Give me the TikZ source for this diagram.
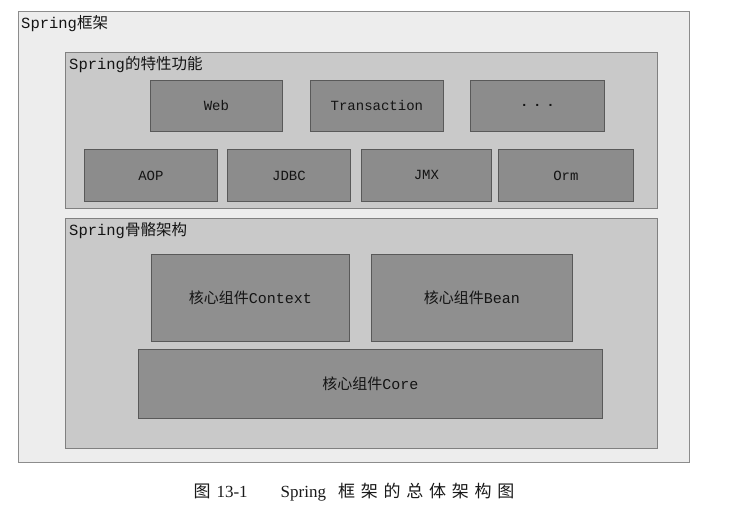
\documentclass[tikz,border=0pt]{standalone}
\usepackage{fontspec}
\setmainfont{Liberation Mono}
\newfontfamily\cjk{Noto Sans CJK SC}
\newfontfamily\capfont{Liberation Serif}
\newfontfamily\cjkcap[LetterSpace=34]{Noto Sans CJK SC}
\begin{document}
\begin{tikzpicture}[x=1pt,y=-1pt,
  framebox/.style={rectangle, anchor=north west, inner sep=0pt, draw=black!45, fill=black!7, line width=0.8pt},
  panelbox/.style={rectangle, anchor=north west, inner sep=0pt, draw=black!50, fill=black!21, line width=0.8pt},
  featbox/.style={rectangle, anchor=north west, inner sep=0pt, draw=black!65, fill=black!45, line width=0.8pt,
    text=black!92, font=\fontsize{14}{16}\selectfont},
  corebox/.style={rectangle, anchor=north west, inner sep=0pt, draw=black!65, fill=black!44, line width=0.8pt,
    text=black!92, font=\fontsize{15}{17}\selectfont},
  paneltitle/.style={anchor=west, inner sep=0pt, text=black!92, font=\fontsize{15.5}{17}\selectfont},
  captext/.style={inner sep=0pt, text=black!90, font=\fontsize{17}{19}\selectfont}]
\useasboundingbox[fill=white] (0,0) rectangle (730,517);
% outer frame
\node[framebox, minimum width=671pt, minimum height=451pt] (outer) at (18,11) {};
\node[paneltitle] (outertitle) at (21,24) {Spring{\cjk 框架}};
% features panel
\node[panelbox, minimum width=592pt, minimum height=156pt] (feat) at (65,52) {};
\node[paneltitle] (feattitle) at (69,65) {Spring{\cjk 的特性功能}};
\node[featbox, minimum width=132pt, minimum height=51pt] (web) at (150,80) {Web};
\node[featbox, minimum width=133pt, minimum height=51pt] (tx) at (310,80) {Transaction};
\node[featbox, minimum width=134pt, minimum height=51pt] (more) at (470,80) {\textbf{.\,\,.\,\,.}};
\node[featbox, minimum width=133pt, minimum height=52pt] (aop) at (84,149) {AOP};
\node[featbox, minimum width=123pt, minimum height=52pt] (jdbc) at (227,149) {JDBC};
\node[featbox, minimum width=130pt, minimum height=52pt] (jmx) at (361,149) {JMX};
\node[featbox, minimum width=135pt, minimum height=52pt] (orm) at (498,149) {Orm};
% skeleton panel
\node[panelbox, minimum width=592pt, minimum height=230pt] (core) at (65,218) {};
\node[paneltitle] (coretitle) at (69,231) {Spring{\cjk 骨骼架构}};
\node[corebox, minimum width=198pt, minimum height=87pt] (context) at (151,254) {{\cjk 核心组件}Context};
\node[corebox, minimum width=201pt, minimum height=87pt] (bean) at (371,254) {{\cjk 核心组件}Bean};
\node[corebox, minimum width=464pt, minimum height=69pt] (corecomp) at (138,349) {{\cjk 核心组件}Core};
% caption
\node[captext] (caption) at (354,492) {{\cjkcap 图}\hspace{6pt}{\capfont 13-1}\hspace{33pt}{\capfont Spring}\hspace{12pt}{\cjkcap 框架的总体架构图}};
\end{tikzpicture}
\end{document}
